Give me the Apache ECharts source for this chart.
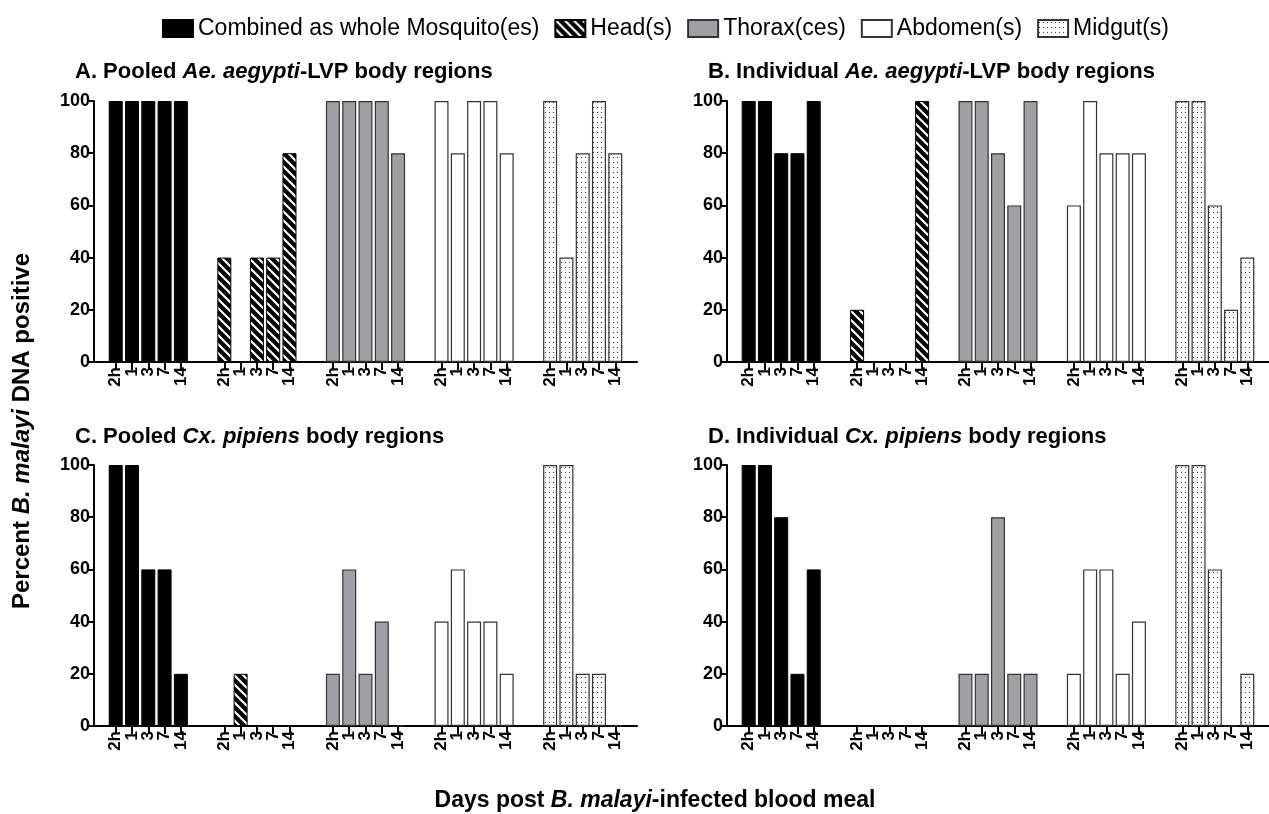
<!DOCTYPE html>
<html>
<head>
<meta charset="utf-8">
<script src="https://cdn.jsdelivr.net/npm/echarts@6/dist/echarts.min.js"></script>
<style>
html, body { margin: 0; padding: 0; background: #fff; }
#main { width: 1269px; height: 814px; }
</style>
</head>
<body>
<div id="main"></div>
<script>
// time points under every group of bars
var timeLabels = ['2h', '1', '3', '7', '14'];
var regionNames = ['Combined as whole Mosquito(es)', 'Head(s)', 'Thorax(ces)', 'Abdomen(s)', 'Midgut(s)'];
var yTicks = [0, 20, 40, 60, 80, 100];

// A. Pooled Ae. aegypti-LVP
var aCombined = [100, 100, 100, 100, 100];
var aHead     = [40, 0, 40, 40, 80];
var aThorax   = [100, 100, 100, 100, 80];
var aAbdomen  = [100, 80, 100, 100, 80];
var aMidgut   = [100, 40, 80, 100, 80];

// B. Individual Ae. aegypti-LVP
var bCombined = [100, 100, 80, 80, 100];
var bHead     = [20, 0, 0, 0, 100];
var bThorax   = [100, 100, 80, 60, 100];
var bAbdomen  = [60, 100, 80, 80, 80];
var bMidgut   = [100, 100, 60, 20, 40];

// C. Pooled Cx. pipiens
var cCombined = [100, 100, 60, 60, 20];
var cHead     = [0, 20, 0, 0, 0];
var cThorax   = [20, 60, 20, 40, 0];
var cAbdomen  = [40, 60, 40, 40, 20];
var cMidgut   = [100, 100, 20, 20, 0];

// D. Individual Cx. pipiens
var dCombined = [100, 100, 80, 20, 60];
var dHead     = [0, 0, 0, 0, 0];
var dThorax   = [20, 20, 80, 20, 20];
var dAbdomen  = [20, 60, 60, 20, 40];
var dMidgut   = [100, 100, 60, 0, 20];

var FONT = "'Liberation Sans', Arial, sans-serif";

// 图案填充
function stripeTile() {
    var c = document.createElement('canvas');
    c.width = 9; c.height = 9;
    var x = c.getContext('2d');
    x.fillStyle = '#000';
    x.fillRect(0, 0, 9, 9);
    x.strokeStyle = '#fff';
    x.lineWidth = 2.2;
    x.beginPath();
    x.moveTo(-2, -2); x.lineTo(11, 11);
    x.moveTo(-2, 7); x.lineTo(2, 11);
    x.moveTo(7, -2); x.lineTo(11, 2);
    x.stroke();
    return c;
}
function dotTile() {
    var c = document.createElement('canvas');
    c.width = 4; c.height = 5;
    var x = c.getContext('2d');
    x.fillStyle = '#fff';
    x.fillRect(0, 0, 4, 5);
    x.fillStyle = '#333';
    x.fillRect(1, 2, 1, 1);
    return c;
}

var styles = [
    { color: '#000', borderColor: '#000', borderWidth: 1 },
    { color: { image: stripeTile(), repeat: 'repeat' }, borderColor: '#000', borderWidth: 1 },
    { color: '#a0a0a4', borderColor: '#333', borderWidth: 1.2 },
    { color: '#fff', borderColor: '#333', borderWidth: 1.2 },
    { color: { image: dotTile(), repeat: 'repeat' }, borderColor: '#333', borderWidth: 1.2 }
];

// category slots: 5 bars per group, gap between groups
var slotCount = 101, firstSlot = 4, groupStep = 20, barStep = 3;
var cats = [], labelOf = {};
for (var k = 0; k < slotCount; k++) cats.push('s' + k);
regionNames.forEach(function (r, g) {
    timeLabels.forEach(function (t, i) {
        var key = g + '_' + t;
        cats[firstSlot + g * groupStep + i * barStep] = key;
        labelOf[key] = t;
    });
});
function isBarSlot(idx) { return labelOf[cats[idx]] !== undefined; }
// empty labels at both ends keep the min/max label check away from the real ones
function isLabelSlot(idx) { return idx === 0 || idx === slotCount - 1 || isBarSlot(idx); }

var panels = [
    { left: 94, top: 101, title: ['A. Pooled ', 'Ae. aegypti', '-LVP body regions'], tx: 75, ty: 61, data: [aCombined, aHead, aThorax, aAbdomen, aMidgut] },
    { left: 727, top: 101, title: ['B. Individual ', 'Ae. aegypti', '-LVP body regions'], tx: 708, ty: 61, data: [bCombined, bHead, bThorax, bAbdomen, bMidgut] },
    { left: 94, top: 465, title: ['C. Pooled ', 'Cx. pipiens', ' body regions'], tx: 75, ty: 426, data: [cCombined, cHead, cThorax, cAbdomen, cMidgut] },
    { left: 727, top: 465, title: ['D. Individual ', 'Cx. pipiens', ' body regions'], tx: 708, ty: 426, data: [dCombined, dHead, dThorax, dAbdomen, dMidgut] }
];

var richTitle = {
    b: { fontFamily: FONT, fontWeight: 'bold', fontSize: 22, color: '#000' },
    i: { fontFamily: FONT, fontWeight: 'bold', fontStyle: 'italic', fontSize: 22, color: '#000' }
};
var richAxis = {
    b: { fontFamily: FONT, fontWeight: 'bold', fontSize: 23, color: '#000' },
    i: { fontFamily: FONT, fontWeight: 'bold', fontStyle: 'italic', fontSize: 23, color: '#000' }
};
var richYName = {
    b: { fontFamily: FONT, fontWeight: 'bold', fontSize: 24, color: '#000' },
    i: { fontFamily: FONT, fontWeight: 'bold', fontStyle: 'italic', fontSize: 24, color: '#000' }
};

var grid = [], xAxis = [], yAxis = [], series = [], title = [];
panels.forEach(function (p, pi) {
    grid.push({ left: p.left, top: p.top, width: 543, height: 261 });
    title.push({
        left: p.tx, top: p.ty, padding: 0,
        text: '{b|' + p.title[0] + '}{i|' + p.title[1] + '}{b|' + p.title[2] + '}',
        textStyle: { rich: richTitle }
    });
    xAxis.push({
        type: 'category', gridIndex: pi, data: cats, boundaryGap: false,
        axisLine: { lineStyle: { color: '#000', width: 2 } },
        axisTick: { length: 8, lineStyle: { color: '#000', width: 2 }, interval: function (idx) { return isBarSlot(idx); } },
        axisLabel: {
            rotate: 90, margin: 5, color: '#000', fontFamily: FONT, fontWeight: 'bold', fontSize: 17, lineHeight: 14,
            interval: function (idx) { return isLabelSlot(idx); },
            formatter: function (v) { return labelOf[v] || ''; }
        },
        splitLine: { show: false }
    });
    yAxis.push({
        type: 'value', gridIndex: pi, min: yTicks[0], max: yTicks[yTicks.length - 1], interval: 20,
        axisLine: { show: true, lineStyle: { color: '#000', width: 2 } },
        axisTick: { show: true, length: 6, lineStyle: { color: '#000', width: 2 } },
        axisLabel: { color: '#000', fontFamily: FONT, fontWeight: 'bold', fontSize: 18, margin: 4 },
        splitLine: { show: false }
    });
    p.data.forEach(function (vals, g) {
        var arr = cats.map(function () { return '-'; });
        vals.forEach(function (v, i) { arr[firstSlot + g * groupStep + i * barStep] = v; });
        series.push({
            name: regionNames[g], type: 'bar', xAxisIndex: pi, yAxisIndex: pi,
            barWidth: 14, barGap: '-100%',
            itemStyle: styles[g],
            emphasis: { disabled: true },
            data: arr
        });
    });
});

var chart = echarts.init(document.getElementById('main'));
chart.setOption({
    animation: false,
    backgroundColor: '#fff',
    title: title,
    legend: {
        top: 12, left: 157,
        data: regionNames,
        icon: 'rect', itemWidth: 30, itemHeight: 17, itemGap: 15,
        textStyle: { color: '#000', fontFamily: FONT, fontSize: 23 }
    },
    grid: grid,
    xAxis: xAxis,
    yAxis: yAxis,
    series: series,
    graphic: [
        {
            type: 'text', x: 22, y: 431, rotation: Math.PI / 2,
            style: {
                text: '{b|Percent }{i|B. malayi}{b| DNA positive}',
                textAlign: 'center', textVerticalAlign: 'middle',
                rich: richYName
            }
        },
        {
            type: 'text', x: 655, y: 801,
            style: {
                text: '{b|Days post }{i|B. malayi}{b|-infected blood meal}',
                textAlign: 'center', textVerticalAlign: 'middle',
                rich: richAxis
            }
        }
    ]
});
</script>
</body>
</html>
